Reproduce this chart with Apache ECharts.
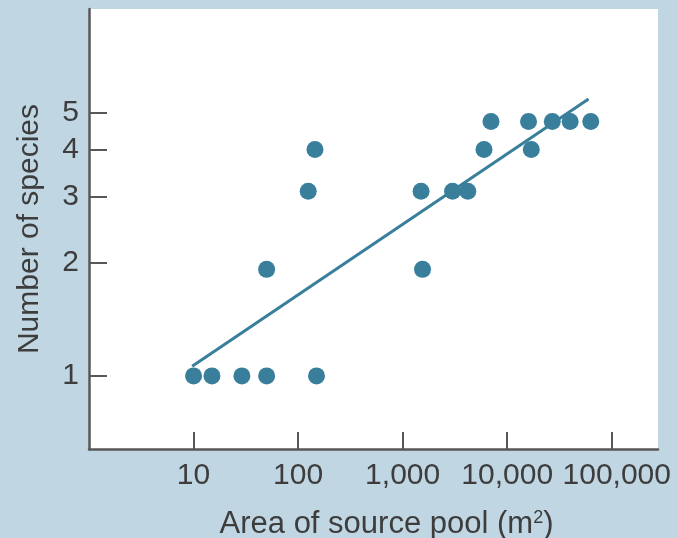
<!DOCTYPE html>
<html>
<head>
<meta charset="utf-8">
<script src="https://cdn.jsdelivr.net/npm/echarts@6/dist/echarts.min.js"></script>
<style>
html,body{margin:0;padding:0;background:#c1d6e3;}
#chart{width:678px;height:538px;}
</style>
</head>
<body>
<div id="chart"></div>
<script>
// Data (x: area m², y: number of species)
const areas   = [10, 15, 29, 50, 150, 50, 1550, 125, 1500, 3000, 4200, 145, 6000, 17000, 7000, 16000, 27000, 40000, 63000];
const species = [1, 1, 1, 1, 1, 1.92, 1.92, 3.1, 3.1, 3.1, 3.1, 4, 4, 4, 4.75, 4.75, 4.75, 4.75, 4.75];
// Fitted regression line end points
const fitAreas   = [9.7, 60000];
const fitSpecies = [1.06, 5.45];
// Axis ticks
const xTickValues = [10, 100, 1000, 10000, 100000];
const xTickLabels = ['10', '100', '1,000', '10,000', '100,000'];
const yTickValues = [1, 2, 3, 4, 5];
const yTickLabels = ['1', '2', '3', '4', '5'];

const FONT = "'Liberation Sans', Arial, Helvetica, sans-serif";
const TEXT = '#3d3d3d';
const AXIS = '#575757';
const BLUE = '#397f9b';

const chart = echarts.init(document.getElementById('chart'), null, {renderer: 'canvas'});
chart.setOption({
  animation: false,
  backgroundColor: '#c1d6e3',
  grid: {
    left: 89, right: 20, top: 9, bottom: 89,
    containLabel: false, outerBoundsMode: 'none',
    show: true, backgroundColor: '#ffffff', borderWidth: 0
  },
  xAxis: {
    type: 'log', logBase: 10, min: 1, max: 277000,
    name: 'Area of source pool (m{sup|2})',
    nameLocation: 'middle', nameGap: 60,
    nameTextStyle: {
      fontFamily: FONT, fontSize: 31, color: TEXT, padding: [0, 0, 0, 26],
      rich: { sup: { fontFamily: FONT, fontSize: 18, color: TEXT, padding: [0, 0, 12, 0] } }
    },
    axisLine: { show: true, onZero: false, lineStyle: { color: AXIS, width: 2.5 } },
    axisTick: { show: true, inside: true, length: 17, customValues: xTickValues, lineStyle: { color: AXIS, width: 2 } },
    axisLabel: {
      show: true, customValues: xTickValues, margin: 12,
      fontFamily: FONT, fontSize: 30, color: TEXT,
      formatter: v => {
        const i = xTickValues.indexOf(Math.round(v));
        if (i < 0) return '';
        return i === xTickValues.length - 1 ? '{last|' + xTickLabels[i] + '}' : xTickLabels[i];
      },
      rich: { last: { fontFamily: FONT, fontSize: 30, color: TEXT, padding: [0, 0, 0, 10] } }
    },
    splitLine: { show: false },
    minorTick: { show: false }
  },
  yAxis: {
    type: 'log', logBase: 10, min: 0.639, max: 9.46,
    name: 'Number of species',
    nameLocation: 'middle', nameGap: 44,
    nameTextStyle: { fontFamily: FONT, fontSize: 30, color: TEXT },
    axisLine: { show: true, onZero: false, lineStyle: { color: AXIS, width: 2.5 } },
    axisTick: { show: true, inside: true, length: 18, customValues: yTickValues, lineStyle: { color: AXIS, width: 2 } },
    axisLabel: {
      show: true, customValues: yTickValues, margin: 10,
      fontFamily: FONT, fontSize: 30, color: TEXT,
      formatter: v => yTickLabels[yTickValues.indexOf(Math.round(v))] ?? ''
    },
    splitLine: { show: false },
    minorTick: { show: false }
  },
  series: [
    {
      type: 'line',
      data: fitAreas.map((a, i) => [a, fitSpecies[i]]),
      showSymbol: false, symbol: 'none',
      lineStyle: { color: BLUE, width: 3 },
      z: 2
    },
    {
      type: 'scatter',
      data: areas.map((a, i) => [a, species[i]]),
      symbol: 'circle', symbolSize: 17,
      itemStyle: { color: BLUE, opacity: 1 },
      z: 3
    }
  ]
});
</script>
</body>
</html>
